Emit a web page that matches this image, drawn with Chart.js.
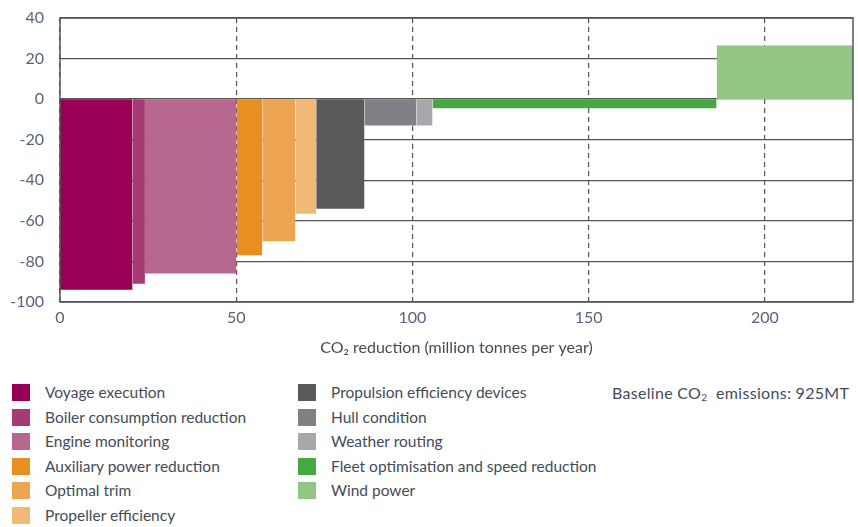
<!DOCTYPE html>
<html>
<head>
<meta charset="utf-8">
<script src="https://cdn.jsdelivr.net/npm/chart.js@4"></script>
<style>
  body { margin: 0; background: #fff; font-family: Lato, "Noto Sans", sans-serif; }
  #wrap { position: relative; width: 858px; height: 527px; }
  #chart { position: absolute; left: 0; top: 0; }
  .item { position: absolute; height: 17px; line-height: 17px; font-size: 15.5px; color: #434c56; white-space: nowrap; }
  .swatch { position: absolute; width: 18px; height: 17px; }
  #baseline { position: absolute; left: 612px; top: 384px; font-size: 16px; letter-spacing: 0.3px; color: #434c56; line-height: 17px; white-space: nowrap; }
  #baseline sub { font-size: 10px; vertical-align: -2px; line-height: 0; }
</style>
</head>
<body>
<div id="wrap">
  <canvas id="chart" width="858" height="365"></canvas>
  <div id="legend"></div>
  <div id="baseline">Baseline CO<sub>2</sub>&nbsp; emissions: 925MT</div>
</div>
<script>
// abatement measures, in order along the curve
const measures = [
  'Voyage execution', 'Boiler consumption reduction', 'Engine monitoring',
  'Auxiliary power reduction', 'Optimal trim', 'Propeller efficiency',
  'Propulsion efficiency devices', 'Hull condition', 'Weather routing',
  'Fleet optimisation and speed reduction', 'Wind power'
];
// CO2 reduction of each measure (million tonnes per year) = bar width
const reductions = [20.6, 3.5, 26.0, 7.3, 9.4, 5.9, 13.7, 14.7, 4.6, 80.6, 38.7];
// cost of each measure = bar height
const costs = [-94, -91, -86, -77, -70, -56.5, -54, -13, -13, -4.5, 26.5];
const colors = [
  '#990055', '#a53a74', '#b8688f', '#e88f22', '#eba44f', '#f0b978',
  '#58595b', '#808184', '#a7a8ab', '#46a843', '#93c585'
];
const xTicks = [0, 50, 100, 150, 200];
const yTicks = [40, 20, 0, -20, -40, -60, -80, -100];

// each measure becomes a filled segment from its start to its end, down/up to zero
let start = 0;
const datasets = measures.map((name, i) => {
  const x0 = start;
  const x1 = start + reductions[i];
  start = x1;
  return {
    label: name,
    data: [{ x: x0, y: costs[i] }, { x: x1, y: costs[i] }],
    backgroundColor: colors[i],
    borderWidth: 0,
    pointRadius: 0,
    fill: 'origin',
    tension: 0
  };
});

const frameBox = {
  id: 'frameBox',
  afterDatasetsDraw(chart) {
    const { ctx, chartArea: a } = chart;
    ctx.save();
    ctx.strokeStyle = '#555';
    ctx.lineWidth = 1.5;
    ctx.strokeRect(a.left, a.top, a.right - a.left, a.bottom - a.top);
    ctx.restore();
  }
};

const tickFont = { family: 'Lato, "Noto Sans", sans-serif', size: 16 };

new Chart(document.getElementById('chart'), {
  type: 'line',
  data: { datasets },
  plugins: [frameBox],
  options: {
    responsive: false,
    devicePixelRatio: 1,
    animation: false,
    layout: { padding: { top: 18, right: 5, left: 0, bottom: 0 } },
    plugins: { legend: { display: false }, tooltip: { enabled: false } },
    scales: {
      x: {
        type: 'linear',
        min: 0,
        max: 225,
        afterFit: s => { s.height = 63; },
        afterBuildTicks: s => { s.ticks = xTicks.map(v => ({ value: v })); },
        ticks: { font: tickFont, color: '#54647a', padding: 6 },
        grid: { color: '#555', lineWidth: 1.2, drawTicks: false },
        border: { display: false, dash: [5, 4] },
        title: {
          display: true,
          text: 'CO₂ reduction (million tonnes per year)',
          font: { family: 'Lato, "Noto Sans", sans-serif', size: 16 },
          color: '#434c56',
          padding: { top: 0, bottom: 8 }
        }
      },
      y: {
        min: -100,
        max: 40,
        afterFit: s => { s.width = 60; s.paddingTop = 0; s.paddingBottom = 0; },
        afterBuildTicks: s => { s.ticks = yTicks.map(v => ({ value: v })); },
        ticks: { font: tickFont, color: '#54647a', padding: 16 },
        grid: { color: '#555', lineWidth: 1.3, drawTicks: false },
        border: { display: false }
      }
    }
  }
});

// legend in two columns below the plot
const legend = document.getElementById('legend');
const colX = [12, 298];
measures.forEach((name, i) => {
  const col = i < 6 ? 0 : 1;
  const row = i < 6 ? i : i - 6;
  const top = 384 + row * 24.6;
  const sw = document.createElement('div');
  sw.className = 'swatch';
  sw.style.left = colX[col] + 'px';
  sw.style.top = top + 'px';
  sw.style.background = colors[i];
  legend.appendChild(sw);
  const label = document.createElement('div');
  label.className = 'item';
  label.style.left = (colX[col] + 33) + 'px';
  label.style.top = top + 'px';
  label.textContent = name;
  legend.appendChild(label);
});
</script>
</body>
</html>
